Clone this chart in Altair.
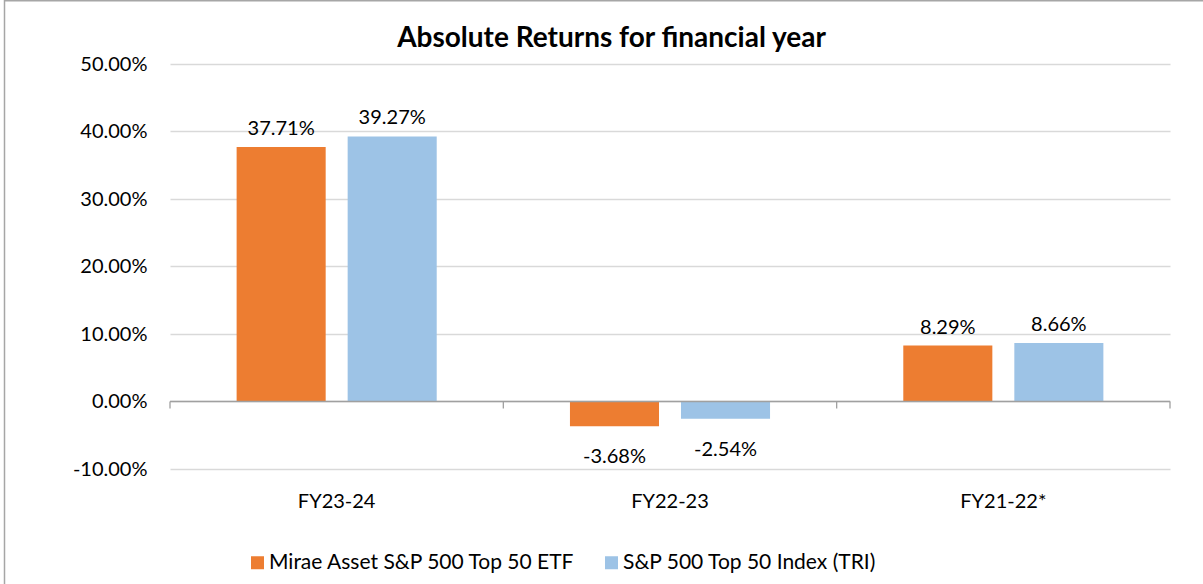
import altair as alt
import pandas as pd

title_text = "Absolute Returns for financial year"
categories = ["FY23-24", "FY22-23", "FY21-22*"]
series = ["Mirae Asset S&P 500 Top 50 ETF", "S&P 500 Top 50 Index (TRI)"]
etf_values = [0.3771, -0.0368, 0.0829]
index_values = [0.3927, -0.0254, 0.0866]
y_ticks = [-0.1, 0.0, 0.1, 0.2, 0.3, 0.4, 0.5]
colors = ["#ED7D31", "#9DC3E6"]

rows = []
for i, c in enumerate(categories):
    rows.append({"cat": c, "series": series[0], "value": etf_values[i]})
    rows.append({"cat": c, "series": series[1], "value": index_values[i]})
df = pd.DataFrame(rows)

FONT = "Lato"
W, H = 1000, 405
AXIS_GREY = "#A0A0A0"

x_enc = alt.X("cat:N", sort=categories, title="",
              scale=alt.Scale(paddingInner=0, paddingOuter=0),
              axis=alt.Axis(domain=False, ticks=False, grid=False, labelFontSize=20,
                            labelFont=FONT, labelColor="#000000", labelPadding=22,
                            labelAngle=0))
y_enc = alt.Y("value:Q", title="",
              scale=alt.Scale(domain=[-0.1, 0.5], nice=False, zero=False),
              axis=alt.Axis(values=y_ticks, domain=False, ticks=False,
                            labelExpr="replace(format(datum.value, '.2%'), '\u2212', '-')",
                            labelFontSize=20, labelFont=FONT, labelColor="#000000",
                            labelPadding=23, gridColor="#D9D9D9", gridWidth=1.3))
xoff = alt.XOffset("series:N", sort=series,
                   scale=alt.Scale(paddingInner=0.198, paddingOuter=0.6))
color_enc = alt.Color("series:N", sort=series,
                      scale=alt.Scale(domain=series, range=colors),
                      legend=alt.Legend(title=None, orient="none", direction="horizontal",
                                        legendX=77, legendY=488, symbolType="square",
                                        symbolSize=169, symbolStrokeWidth=0,
                                        labelFontSize=21, labelFont=FONT, labelColor="#000000",
                                        labelLimit=0, columnPadding=25, labelOffset=1))

base = alt.Chart(df).transform_calculate(
    label="replace(format(datum.value, '.2%'), '\u2212', '-')"
)

bars = base.mark_bar().encode(x=x_enc, y=y_enc, xOffset=xoff, color=color_enc)

pos_labels = base.transform_filter("datum.value >= 0").mark_text(
    baseline="bottom", dy=-8, fontSize=20, font=FONT, color="#000000"
).encode(x=alt.X("cat:N", sort=categories), y="value:Q", xOffset=xoff,
         text="label:N")

neg_labels = base.transform_filter("datum.value < 0").mark_text(
    baseline="top", dy=21, fontSize=20, font=FONT, color="#000000"
).encode(x=alt.X("cat:N", sort=categories), y="value:Q", xOffset=xoff,
         text="label:N")

zero_line = alt.Chart(alt.Data(values=[{}])).mark_rule(
    color=AXIS_GREY, strokeWidth=1.3
).encode(x=alt.value(0), x2=alt.value(W), y=alt.datum(0))

tick_left = base.transform_filter("datum.series == '%s'" % series[0]).mark_rule(
    color=AXIS_GREY, strokeWidth=1.3
).encode(x=alt.X("cat:N", sort=categories, bandPosition=0),
         y=alt.datum(0), y2=alt.datum(-0.0104))

tick_right = base.transform_filter(
    "datum.series == '%s' && datum.cat == '%s'" % (series[0], categories[-1])
).mark_rule(color=AXIS_GREY, strokeWidth=1.3).encode(
    x=alt.X("cat:N", sort=categories, bandPosition=1),
    y=alt.datum(0), y2=alt.datum(-0.0104))

title_mark = alt.Chart(alt.Data(values=[{"t": title_text}])).mark_text(
    fontSize=28, font=FONT, fontWeight="bold", color="#000000",
    align="center", baseline="middle"
).encode(x=alt.value(441.5), y=alt.value(-25), text="t:N")

border = alt.Chart(alt.Data(values=[{}])).mark_rect(
    filled=False, stroke="#A6A6A6", strokeWidth=1.5
).encode(x=alt.value(-165.5), x2=alt.value(1040), y=alt.value(-63.3), y2=alt.value(540))

chart = alt.layer(bars, zero_line, tick_left, tick_right, pos_labels, neg_labels,
                  title_mark, border).properties(
    width=W, height=H,
    autosize=alt.AutoSizeParams(type="none"),
    padding={"left": 170, "top": 64, "right": 33, "bottom": 115},
).configure(
    background="white",
    view=alt.ViewConfig(stroke="transparent", strokeWidth=0),
)

chart.save("out.html", embed_options={"renderer": "svg", "actions": False})
